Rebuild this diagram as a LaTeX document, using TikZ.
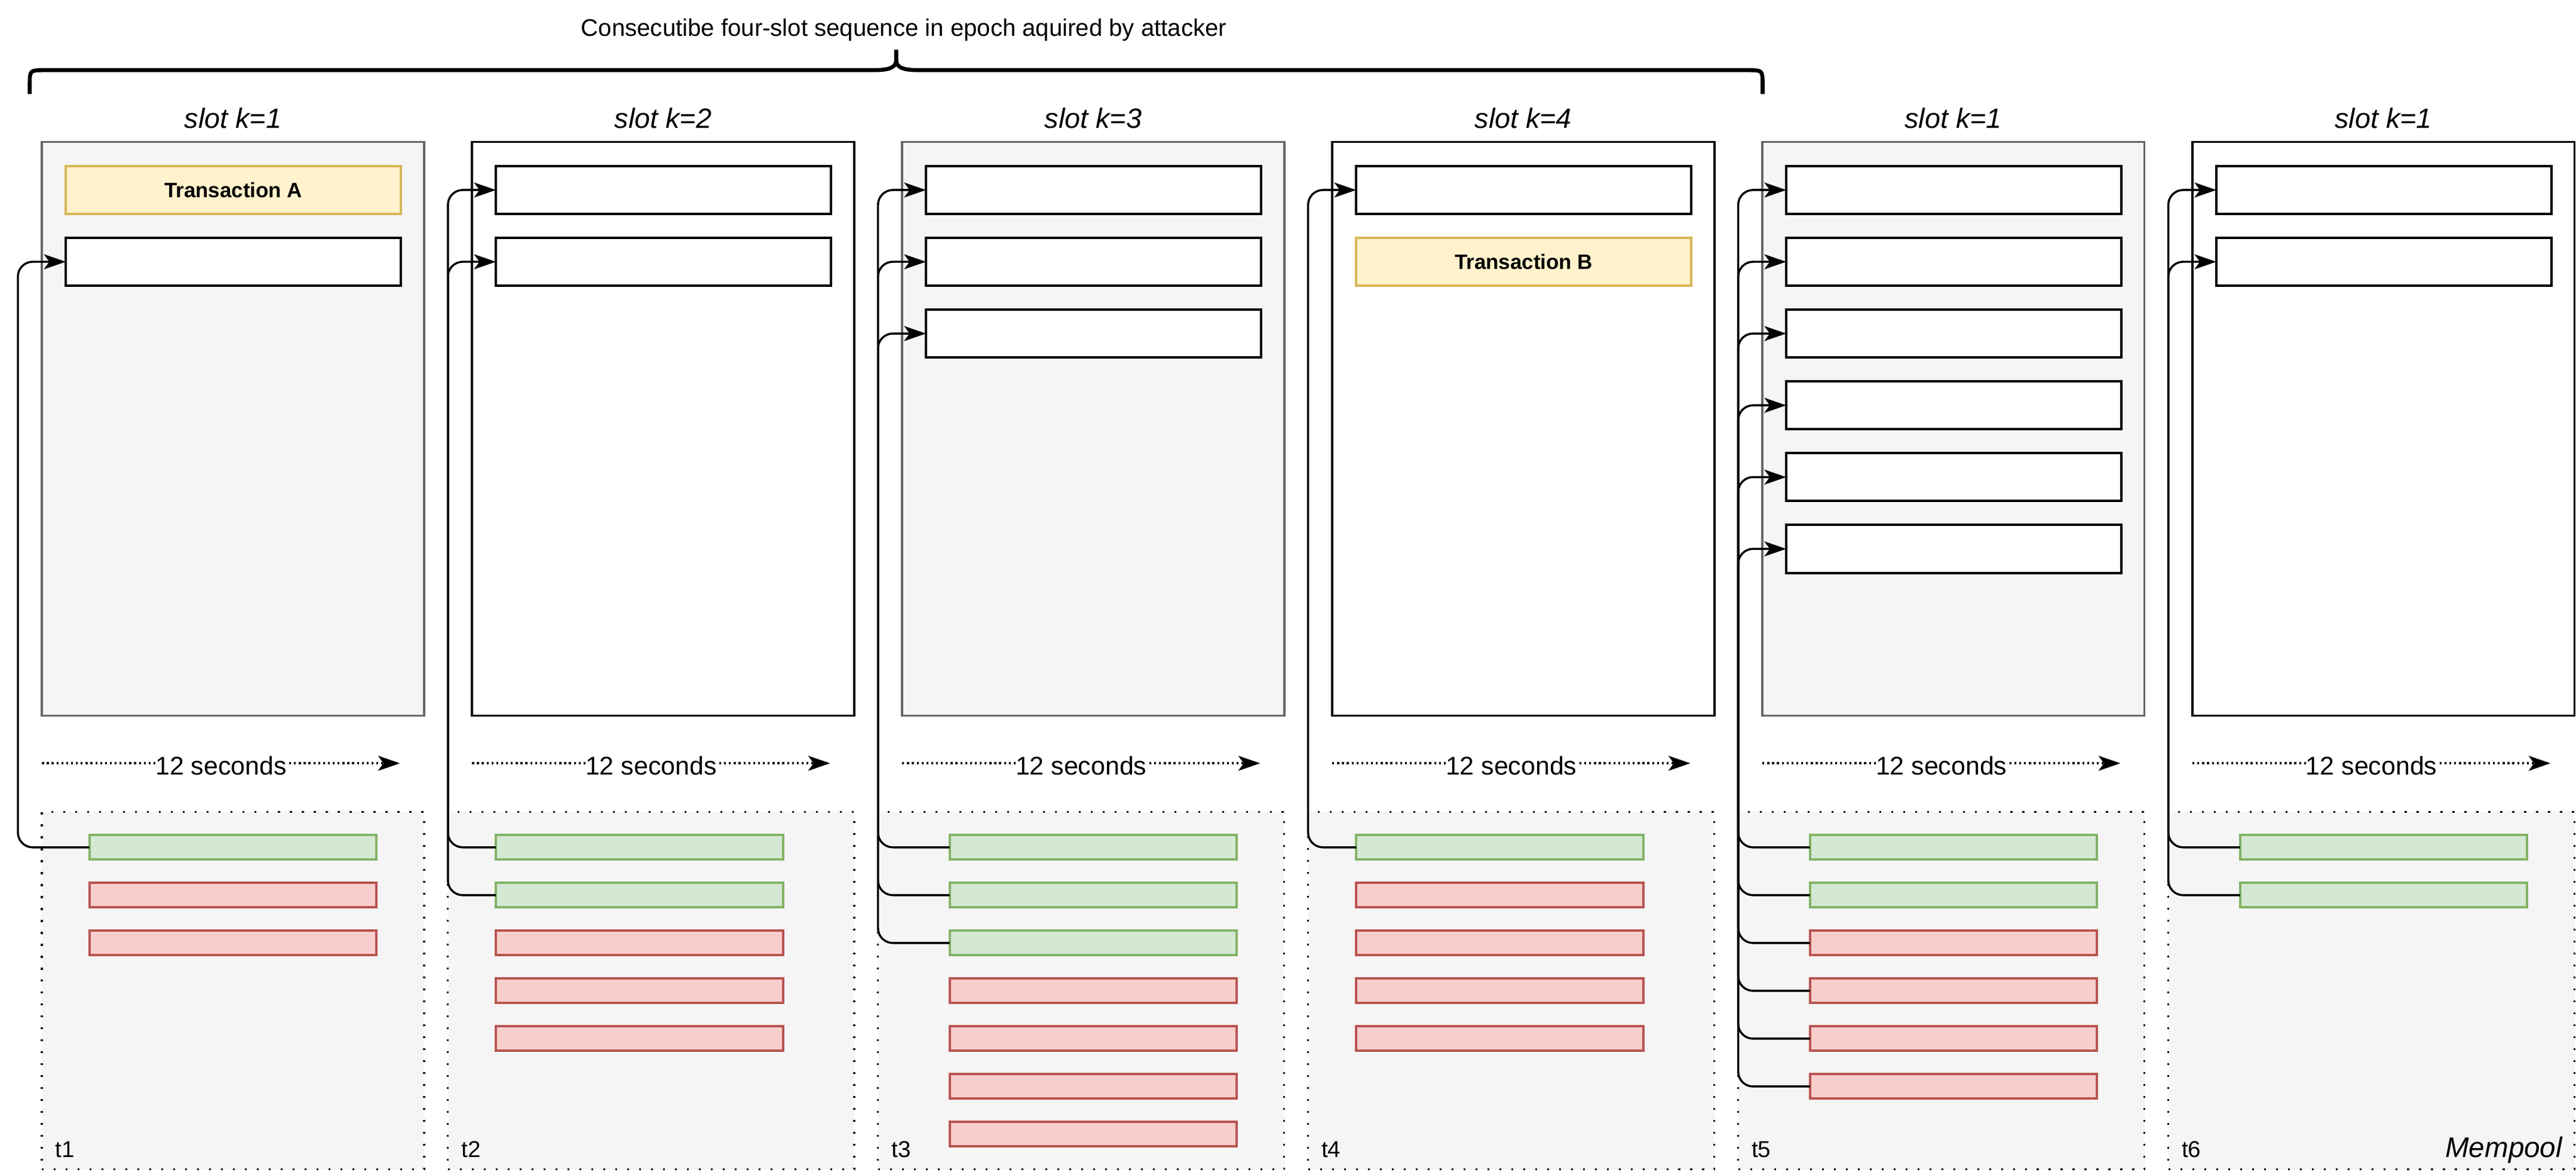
\documentclass[tikz,border=0pt]{standalone}
\usepackage{fontspec}
\setmainfont{Liberation Sans}
\usetikzlibrary{arrows.meta,calc}
\definecolor{grayfill}{HTML}{F5F5F5}
\definecolor{graystroke}{HTML}{666666}
\definecolor{gfill}{HTML}{D5E8D4}
\definecolor{gstroke}{HTML}{82B366}
\definecolor{rfill}{HTML}{F8CECC}
\definecolor{rstroke}{HTML}{B85450}
\definecolor{yfill}{HTML}{FFF2CC}
\definecolor{ystroke}{HTML}{D6B656}
\begin{document}
\begin{tikzpicture}[x=1pt,y=-1pt,
  slotgray/.style={draw=graystroke, fill=grayfill, line width=1.25pt, minimum width=232.7pt, minimum height=349.2pt, anchor=north west, inner sep=0pt, outer sep=0pt},
  slotwhite/.style={slotgray, draw=black, fill=white},
  txw/.style={draw=black, fill=white, line width=1.45pt, minimum width=204pt, minimum height=29.2pt, anchor=north west, inner sep=0pt, outer sep=0pt},
  txy/.style={txw, draw=ystroke, fill=yfill, font=\fontsize{12.7}{15}\selectfont\bfseries},
  pool/.style={fill=grayfill, draw=black, line width=1.2pt, dash pattern=on 1.2pt off 6.07pt, anchor=north west, inner sep=0pt, outer sep=0pt, minimum height=217.6pt},
  mg/.style={draw=gstroke, fill=gfill, line width=1.45pt, minimum width=174.8pt, minimum height=14.9pt, anchor=north west, inner sep=0pt, outer sep=0pt},
  mr/.style={mg, draw=rstroke, fill=rfill},
  conn/.style={draw=black, line width=1.25pt, rounded corners=9pt, -{Stealth[length=13.3pt,width=9.1pt,inset=3.3pt]}},
  timearrow/.style={draw=black, line width=1.25pt, dash pattern=on 1.2pt off 1.75pt, -{Stealth[length=13.3pt,width=9.1pt,inset=3.3pt]}},
  timelabel/.style={fill=white, inner sep=0pt, font=\fontsize{15.6}{18}\selectfont, anchor=base, yshift=-6.9pt},
  slotlabel/.style={font=\fontsize{17}{20}\selectfont\itshape, anchor=base, inner sep=0pt},
  tlabel/.style={font=\fontsize{14}{16}\selectfont, anchor=base west, inner sep=0pt},
  brace/.style={draw=black, line width=2.4pt},
]
\fill[white] (0,0) rectangle (1568,712.73);
\useasboundingbox (0,0) rectangle (1568,712.73);

% title and brace
\node[font=\fontsize{14.6}{17}\selectfont, anchor=base, inner sep=0pt] (title) at (550.2,22) {Consecutibe four-slot sequence in epoch aquired by attacker};
\draw[brace] (18.1,57.2) -- (18.1,51.7) .. controls (18.1,42.7) .. (27.1,42.7) -- (531,42.7) .. controls (540.5,42.7) and (545.5,41.5) .. (545.5,36.5) -- (545.5,30.3);
\draw[brace] (1072.9,57.2) -- (1072.9,51.7) .. controls (1072.9,42.7) .. (1063.9,42.7) -- (560,42.7) .. controls (550.5,42.7) and (545.5,41.5) .. (545.5,36.5) -- (545.5,30.3);

% slot boxes and labels
\foreach \i/\st/\kk in {1/slotgray/1,2/slotwhite/2,3/slotgray/3,4/slotwhite/4,5/slotgray/1,6/slotwhite/1}{
  \pgfmathsetmacro{\L}{25.45+261.8*(\i-1)}
  \node[\st] (s\i) at (\L,86.3) {};
  \node[slotlabel] (sl\i) at ({\L+116.35},78) {slot k=\kk};
  \coordinate (ta\i) at ({\L+0.1},464.4);
  \coordinate (tb\i) at ({\L+218},464.4);
  \draw[timearrow] (ta\i) -- node[timelabel] (tl\i) {12 seconds} (tb\i);
}

% inner boxes
\node[txy] (b1-1) at (40.05,101) {Transaction A};
\node[txw] (b1-2) at (40.05,144.67) {};
\foreach \i/\n in {2/2,3/3,5/6,6/2}{
  \pgfmathsetmacro{\L}{25.45+261.8*(\i-1)}
  \foreach \k in {1,...,\n}{
    \pgfmathsetmacro{\Y}{101+43.67*(\k-1)}
    \node[txw] (b\i-\k) at ({\L+14.6},\Y) {};
  }
}
\node[txw] (b4-1) at (825.45,101) {};
\node[txy] (b4-2) at (825.45,144.67) {Transaction B};

% mempool regions
\node[pool, minimum width=232.7pt] (r1) at (25.45,493.9) {};
\foreach \i in {2,...,6}{
  \pgfmathsetmacro{\L}{25.45+261.8*(\i-1)-14.6}
  \node[pool, minimum width=247.3pt] (r\i) at (\L,493.9) {};
}
\coordinate (v1) at (10.9,0);
\foreach \i in {2,...,6}{
  \coordinate (v\i) at (r\i.west);
}
\foreach \i in {1,...,6}{
  \node[tlabel] (tt\i) at ($(r\i.north west)+(8,210.1)$) {t\i};
}
\node[font=\fontsize{17.3}{20}\selectfont\itshape, anchor=base east, inner sep=0pt] (mp) at (1559.8,704) {Mempool};

% mempool transactions
\foreach \i/\off/\lst in {1/29/{mg,mr,mr}, 2/14.6/{mg,mg,mr,mr,mr}, 3/29/{mg,mg,mg,mr,mr,mr,mr}, 4/14.6/{mg,mr,mr,mr,mr}, 5/29/{mg,mg,mr,mr,mr,mr}, 6/29/{mg,mg}}{
  \pgfmathsetmacro{\X}{25.45+261.8*(\i-1)+\off}
  \foreach \c [count=\k] in \lst {
    \pgfmathsetmacro{\Y}{508.1+29.1*(\k-1)}
    \node[\c] (m\i-\k) at (\X,\Y) {};
  }
}

% connectors
\foreach \i/\k/\t in {1/1/2, 2/1/1, 2/2/2, 3/1/1, 3/2/2, 3/3/3, 4/1/1, 5/1/1, 5/2/2, 5/3/3, 5/4/4, 5/5/5, 5/6/6, 6/1/1, 6/2/2}{
  \draw[conn] (m\i-\k.west) -- (m\i-\k.west -| v\i) -- (b\i-\t.west -| v\i) -- (b\i-\t.west);
}
\end{tikzpicture}
\end{document}
